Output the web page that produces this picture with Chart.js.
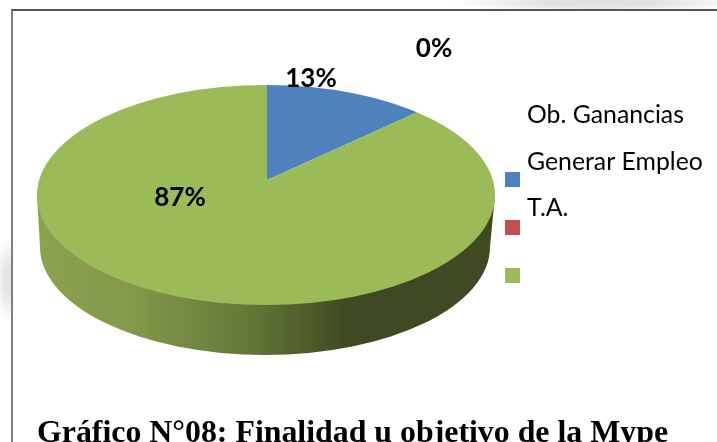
<!DOCTYPE html>
<html>
<head>
<meta charset="utf-8">
<script src="https://cdn.jsdelivr.net/npm/chart.js@4/dist/chart.umd.min.js"></script>
<style>
  html, body { margin: 0; padding: 0; background: #fff; overflow: hidden; }
  #page { position: relative; width: 717px; height: 442px; overflow: hidden;
    background:
      radial-gradient(ellipse 150px 9px at 600px 3px, #e2e2e2 40%, rgba(255,255,255,0) 100%),
      radial-gradient(ellipse 12px 42px at 8px 280px, #e4e4e4 30%, rgba(255,255,255,0) 100%),
      #fff; }
  #frame { position: absolute; left: 11px; top: 9px; right: -5px; bottom: -5px;
    border-left: 2px solid #7f7f7f; border-top: 2px solid #555; background: #fff; }
  canvas { position: absolute; left: 0; top: 0; }
</style>
</head>
<body>
<div id="page">
  <div id="frame"></div>
  <canvas id="pieChart" width="717" height="442"></canvas>
</div>
<script>
// Data
const categories = ['Ob. Ganancias', 'Generar Empleo', 'T.A.'];
const shares = [13, 0, 87];
const shareLabels = ['13%', '0%', '87%'];
const sliceColors = ['#4f81bd', '#c0504d', '#9bbb59'];
const chartTitle = 'Gráfico N°08: Finalidad u objetivo de la Mype';

// Layout of the fake 3D pie (the slice apex is not at the centre of the top ellipse)
const topEllipse = { x: 266, y: 195, rx: 229, ry: 110 };
const lowEllipse = { x: 265, y: 247, rx: 225, ry: 108 };
const sliceScale = { x: 2.9, y: 1.39 };
const labelSpots = [[311, 79], [434, 49], [180, 198]];
const legendBoxX = 505;
const legendBoxY = [172, 220, 268];
const legendTextX = 527;
const legendTextY = [115, 162, 208];

const pie3d = {
    id: 'pie3d',
    beforeDatasetsDraw(chart) {
        const ctx = chart.ctx;
        const arc = chart.getDatasetMeta(0).data[0];

        // side wall
        const wall = ctx.createLinearGradient(lowEllipse.x - lowEllipse.rx, 0, lowEllipse.x + lowEllipse.rx, 0);
        wall.addColorStop(0, '#8ba24f');
        wall.addColorStop(0.2, '#84994b');
        wall.addColorStop(0.45, '#667a39');
        wall.addColorStop(0.68, '#404a22');
        wall.addColorStop(1, '#404a22');
        ctx.save();
        ctx.fillStyle = wall;
        ctx.beginPath();
        ctx.moveTo(topEllipse.x - topEllipse.rx, topEllipse.y);
        ctx.lineTo(lowEllipse.x - lowEllipse.rx, lowEllipse.y);
        ctx.ellipse(lowEllipse.x, lowEllipse.y, lowEllipse.rx, lowEllipse.ry, 0, Math.PI, 0, true);
        ctx.lineTo(topEllipse.x + topEllipse.rx, topEllipse.y);
        ctx.closePath();
        ctx.fill();
        ctx.restore();

        // slices are squashed around their apex and cut by the top ellipse
        ctx.save();
        ctx.beginPath();
        ctx.ellipse(topEllipse.x, topEllipse.y, topEllipse.rx, topEllipse.ry, 0, 0, Math.PI * 2);
        ctx.clip();
        ctx.translate(arc.x, arc.y);
        ctx.scale(sliceScale.x, sliceScale.y);
        ctx.translate(-arc.x, -arc.y);
    },
    afterDatasetsDraw(chart) {
        const ctx = chart.ctx;
        ctx.restore();

        ctx.save();
        ctx.fillStyle = '#000';
        ctx.textBaseline = 'middle';

        // percent labels
        ctx.font = 'bold 26px Lato';
        ctx.textAlign = 'center';
        shareLabels.forEach((label, i) => ctx.fillText(label, labelSpots[i][0], labelSpots[i][1]));

        // legend, the text sits above its box like in the original
        ctx.font = '24.8px Lato';
        ctx.textAlign = 'left';
        categories.forEach((name, i) => {
            ctx.fillStyle = sliceColors[i];
            ctx.fillRect(legendBoxX, legendBoxY[i], 15, 15);
            ctx.fillStyle = '#000';
            ctx.fillText(name, legendTextX, legendTextY[i]);
        });

        // caption, cut by the bottom of the picture
        ctx.font = 'bold 31.85px "Liberation Serif"';
        ctx.textBaseline = 'alphabetic';
        ctx.fillText(chartTitle, 37, 442);
        ctx.restore();
    }
};

const ctx = document.getElementById('pieChart').getContext('2d');

const pie_chart = new Chart(ctx, {
    type: 'pie',
    data: {
        labels: categories,
        datasets: [{
            data: shares,
            backgroundColor: sliceColors,
            borderWidth: 0,
            clip: false
        }]
    },
    options: {
        responsive: false,
        animation: false,
        layout: {
            padding: { left: 37, right: 220, top: 85, bottom: 167 }
        },
        plugins: {
            legend: { display: false },
            tooltip: { enabled: false }
        }
    },
    plugins: [pie3d]
});
</script>
</body>
</html>
